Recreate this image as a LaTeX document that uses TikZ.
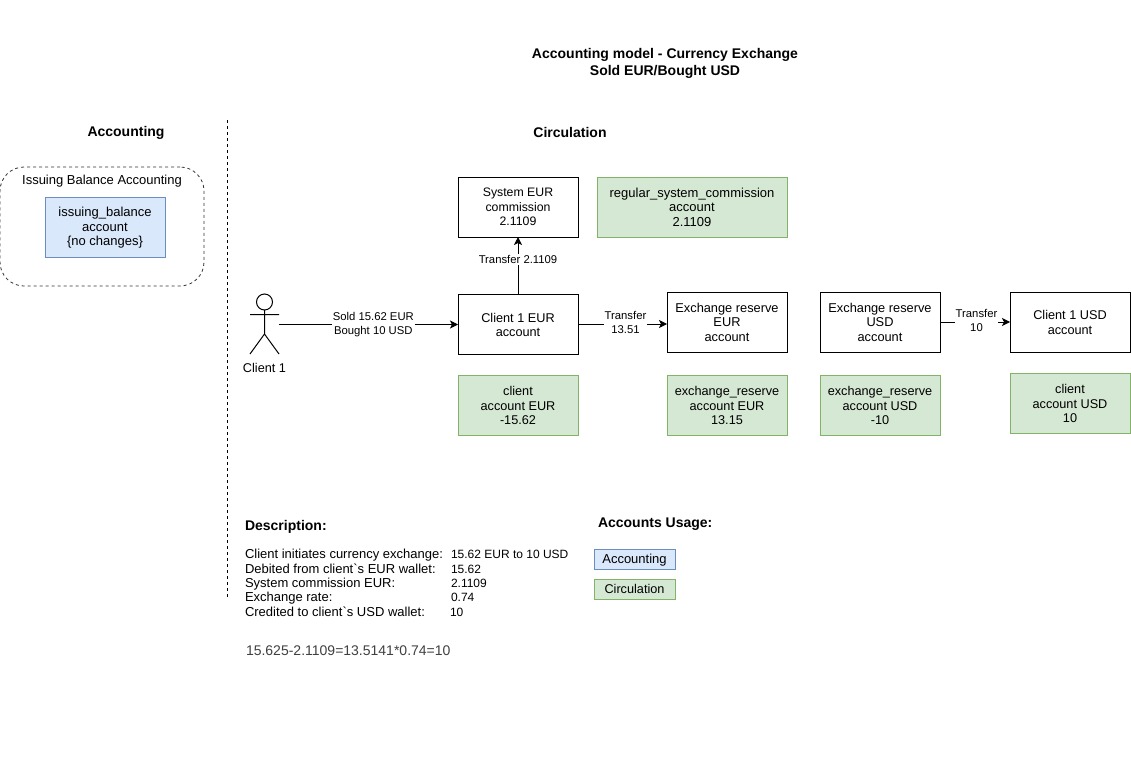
\documentclass[tikz,border=0pt]{standalone}
\usepackage{fontspec}
\setmainfont{Liberation Sans}
\newfontfamily\rawfont{Liberation Sans}
\newcommand{\bqt}{{\rawfont\char96\relax}}
\usetikzlibrary{arrows.meta}
\definecolor{bluefill}{HTML}{DAE8FC}
\definecolor{blueline}{HTML}{6C8EBF}
\definecolor{greenfill}{HTML}{D5E8D4}
\definecolor{greenline}{HTML}{82B366}
\tikzset{
  x=1pt,y=-1pt,
  every node/.style={font=\fontsize{12.7}{14.5}\selectfont,text=black,inner sep=0pt,outer sep=0pt},
  plainbox/.style={draw=black,line width=1pt,fill=white,minimum width=120pt,minimum height=60pt,align=center},
  greenbox/.style={draw=greenline,line width=1pt,fill=greenfill,minimum width=120pt,minimum height=60pt,align=center},
  bluebox/.style={draw=blueline,line width=1pt,fill=bluefill,minimum width=120pt,minimum height=60pt,align=center},
  legendblue/.style={bluebox,minimum width=81pt,minimum height=20pt},
  legendgreen/.style={greenbox,minimum width=81pt,minimum height=20pt},
  heading/.style={font=\fontsize{14}{17}\selectfont\bfseries,align=center},
  small/.style={font=\fontsize{11.3}{14}\selectfont,fill=white,align=center,inner sep=1pt},
  desc/.style={anchor=base west,font=\fontsize{13}{14.5}\selectfont},
  vals/.style={anchor=base west,font=\fontsize{12}{14.5}\selectfont},
  link/.style={line width=1pt,draw=black,-{Stealth[length=8pt,width=8pt,inset=2pt]}},
  limb/.style={line width=1pt,draw=black}
}
\begin{document}
\begin{tikzpicture}
\useasboundingbox (0,0) rectangle (1131,768);
\fill[white] (0,0) rectangle (1131,768);
\node[heading] (title) at (665,63.5) {Accounting model - Currency Exchange\\Sold EUR/Bought USD};
\node[heading] (hacc) at (126,132.5) {Accounting};
\node[heading] (hcirc) at (570,132.5) {Circulation};
\draw[dashed,line width=1pt,dash pattern=on 3pt off 3pt] (227,120) coordinate (sepa) -- (227,598) coordinate (sepb);
\node[draw=black!80,dashed,dash pattern=on 3pt off 3pt,line width=0.8pt,rounded corners=24pt,minimum width=204pt,minimum height=119pt] (group) at (102,226.5) {};
\node[font=\fontsize{13}{15}\selectfont] (grouplabel) at (102,181.5) {Issuing Balance Accounting};
\node[bluebox,font=\fontsize{13}{14.5}\selectfont] (issuing) at (105,227) {};
\node[font=\fontsize{13}{14.5}\selectfont,align=center] (issuingtext) at (105,228) {issuing\_balance\\account\\\{no changes\}};

\node[plainbox,font=\fontsize{12.3}{14.5}\selectfont] (syscom) at (518,207) {System EUR\\commission\\2.1109};
\node[greenbox,minimum width=190pt,font=\fontsize{13}{14.5}\selectfont] (regular) at (692,207) {regular\_system\_commission\\account\\2.1109};
\node[plainbox] (c1eur) at (518,324) {};
\node[align=center] (c1eurtext) at (518,325) {Client 1 EUR\\account};
\node[plainbox,font=\fontsize{12.8}{14.5}\selectfont] (reseur) at (727,322) {Exchange reserve\\EUR\\account};
\node[plainbox,font=\fontsize{12.8}{14.5}\selectfont] (resusd) at (880,322) {Exchange reserve\\USD\\account};
\node[plainbox] (c1usd) at (1070,322) {};
\node[align=center] (c1usdtext) at (1070,322.5) {Client 1 USD\\account};
\node[greenbox] (gc1eur) at (518,405) {};
\node[align=center] (gc1eurtext) at (518,405.5) {client\\account EUR\\-15.62};
\node[greenbox] (greseur) at (727,405) {};
\node[align=center] (gresuertext) at (727,405.5) {exchange\_reserve\\account EUR\\13.15};
\node[greenbox] (gresusd) at (880,405) {};
\node[align=center] (gresusdtext) at (880,405.5) {exchange\_reserve\\account USD\\-10};
\node[greenbox] (gc1usd) at (1070,403) {};
\node[align=center] (gc1usdtext) at (1070,403.5) {client\\account USD\\10};

% actor
\coordinate (actor) at (279,324.5);
\draw[limb] (264.5,302) circle (8);
\draw[limb] (264.5,310) -- (264.5,334) (250,314.5) -- (279,314.5) (264.5,334) -- (250,354) (264.5,334) -- (279,354);
\node (client) at (264.5,367.5) {Client 1};

\draw[link] (actor) -- (c1eur.west |- actor) node[small,pos=0.527] (l1) {Sold 15.62 EUR\\Bought 10 USD};
\draw[link] (c1eur.north) -- (syscom.south) node[small,midway,yshift=6pt] (l2) {Transfer 2.1109};
\coordinate (t1) at (623,324);
\draw[link] (c1eur.east |- t1) -- (reseur.west |- t1) node[small,midway,xshift=3pt,yshift=1.5pt] (l3) {Transfer\\13.51};
\draw[link] (resusd.east) -- (c1usd.west) node[small,midway,xshift=1.5pt,yshift=1.5pt] (l4) {Transfer\\10};

\node[heading,anchor=base west] (hdesc) at (245,530) {Description:};
\node[heading,anchor=base west] (husage) at (598,527) {Accounts Usage:};
\node[desc] (d1) at (245,558.5) {Client initiates currency exchange:};
\node[desc] (d2) at (245,573.5) {Debited from client\bqt s EUR wallet:};
\node[desc] (d3) at (245,587.5) {System commission EUR:};
\node[desc] (d4) at (245,601.5) {Exchange rate:};
\node[desc] (d5) at (245,616.5) {Credited to client\bqt s USD wallet:};
\node[vals] (v1) at (451,558.5) {15.62 EUR to 10 USD};
\node[vals] (v2) at (451,573.5) {15.62};
\node[vals] (v3) at (451,587.5) {2.1109};
\node[vals] (v4) at (451,601.5) {0.74};
\node[vals] (v5) at (450,616.5) {10};
\node[desc,font=\fontsize{14}{16}\selectfont,text=black!75] (formula) at (246,655) {15.625-2.1109=13.5141*0.74=10};
\node[legendblue] (la) at (634.5,559) {};
\node[font=\fontsize{13}{15}\selectfont] (latext) at (634.5,559.8) {Accounting};
\node[legendgreen] (lc) at (634.5,589) {Circulation};
\end{tikzpicture}
\end{document}
